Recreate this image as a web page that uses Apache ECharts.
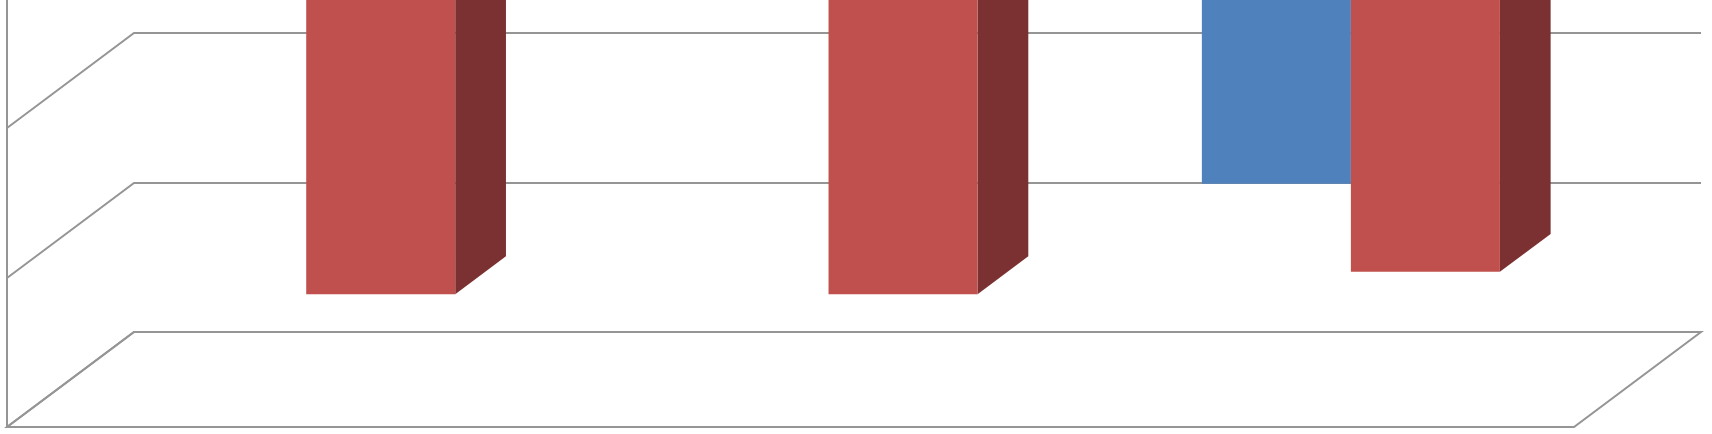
<!DOCTYPE html>
<html><head><meta charset="utf-8">
<script src="https://cdn.jsdelivr.net/npm/echarts@6/dist/echarts.min.js"></script>
<style>html,body{margin:0;padding:0;background:#fff}#c{width:1712px;height:434px}</style>
</head><body><div id="c"></div>
<script>
// Data (value axis reversed: bars hang from 0 at the top)
const categories = ['Category 1', 'Category 2', 'Category 3'];
const blueValues = [0, 0, 1.56];
const redValues = [2.30, 2.30, 2.15];
const yTicks = [0, 1, 2, 3];

// 3D style constants
const DEPTH_X = 0.2428;   // depth offset as share of category band
const DEPTH_Y = 0.633;    // depth offset as share of one value unit
const BAR_W = 0.2853;     // bar width as share of category band
const BAR_Z0 = 0.3, BAR_Z1 = 0.7;
const LINE = '#959595';

function frameRender(params, api) {
  const R = Math.round;
  const band = api.size([1, 0])[0];
  const unit = api.size([0, 1])[1];
  const dx = R(DEPTH_X * band), dy = R(DEPTH_Y * unit);
  const n = categories.length;
  const x0 = R(api.coord([0, 1])[0] - band / 2);
  const x1 = R(api.coord([n - 1, 1])[0] + band / 2);
  const yMax = yTicks[yTicks.length - 1];
  const yBase = R(api.coord([0, yMax])[1]);
  const yTop = R(api.coord([0, yTicks[0]])[1]);
  const ls = { stroke: LINE, lineWidth: 2, fill: null };
  const children = [];
  children.push({ type: 'polygon', shape: { points: [[x0, yBase], [x1, yBase], [x1 + dx, yBase - dy], [x0 + dx, yBase - dy]] },
    style: { fill: '#fff', stroke: LINE, lineWidth: 2, lineJoin: 'miter' } });
  yTicks.forEach(t => {
    const y = R(api.coord([0, t])[1]);
    children.push({ type: 'polyline', shape: { points: [[x0, y], [x0 + dx, y - dy], [x1 + dx, y - dy]] }, style: ls });
  });
  children.push({ type: 'line', shape: { x1: x0, y1: yTop - 200, x2: x0, y2: yBase + 1 }, style: ls });
  return { type: 'group', children };
}

function barRender(side, colors) {
  return function (params, api) {
    const ci = api.value(0), v = api.value(1);
    if (!v) return null;
    const band = api.size([1, 0])[0];
    const unit = api.size([0, 1])[1];
    const dx = DEPTH_X * band, dy = DEPTH_Y * unit;
    const c = api.coord([ci, 0]);
    const b = api.coord([ci, v]);
    const w = BAR_W * band;
    const xl = c[0] + (side < 0 ? -w : 0) + BAR_Z0 * dx;
    const xr = xl + w;
    const yt = c[1] - BAR_Z0 * dy;
    const yb = b[1] - BAR_Z0 * dy;
    const sdx = (BAR_Z1 - BAR_Z0) * dx, sdy = (BAR_Z1 - BAR_Z0) * dy;
    return { type: 'group', children: [
      { type: 'polygon', shape: { points: [[xl, yt], [xr, yt], [xr + sdx, yt - sdy], [xl + sdx, yt - sdy]] }, style: { fill: colors.top } },
      { type: 'polygon', shape: { points: [[xr, yt], [xr + sdx, yt - sdy], [xr + sdx, yb - sdy], [xr, yb]] }, style: { fill: colors.side } },
      { type: 'rect', shape: { x: xl, y: yt, width: w, height: yb - yt }, style: { fill: colors.front } }
    ] };
  };
}

const chart = echarts.init(document.getElementById('c'));
chart.setOption({
  animation: false,
  backgroundColor: '#fff',
  grid: { left: 7, right: 138, top: 0, bottom: 7 },
  xAxis: { type: 'category', data: categories, show: false },
  yAxis: { type: 'value', min: 0.14, max: 3, inverse: true, show: false },
  series: [
    { type: 'custom', name: 'frame', z: 1, renderItem: frameRender, data: [[0, 1]], encode: { x: 0, y: 1 }, silent: true, clip: false },
    { type: 'custom', name: 'Series 1', z: 2, clip: false, renderItem: barRender(-1, { front: '#4F81BD', side: '#2E4F78', top: '#6F97CB' }),
      data: blueValues.map((v, i) => [i, v]), encode: { x: 0, y: 1 } },
    { type: 'custom', name: 'Series 2', z: 3, clip: false, renderItem: barRender(1, { front: '#C0504D', side: '#7B3131', top: '#CF6F6C' }),
      data: redValues.map((v, i) => [i, v]), encode: { x: 0, y: 1 } }
  ]
});
</script>
</body></html>
